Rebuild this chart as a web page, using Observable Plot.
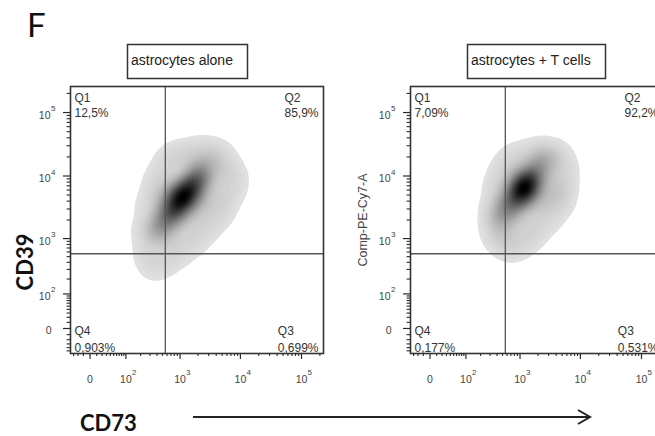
<!DOCTYPE html>
<html><head><meta charset="utf-8">
<script src="https://cdn.jsdelivr.net/npm/d3@7"></script>
<script src="https://cdn.jsdelivr.net/npm/@observablehq/plot@0.6"></script>
<style>
body{margin:0;width:655px;height:436px;overflow:hidden;position:relative;background:#fff;font-family:"Liberation Sans",Arial,sans-serif;}
.panel{position:absolute;top:80px;width:330px;height:320px;}
.panel svg{max-width:none !important;overflow:visible;}
#overlay{position:absolute;left:0;top:0;pointer-events:none;}
</style></head><body>
<div id="p1" class="panel" style="left:0px"></div>
<div id="p2" class="panel" style="left:340px"></div>
<svg id="overlay" width="655" height="436"></svg>
<script>
// ---- data ----
const panelLetter = "F";
const panelTitles = ["astrocytes alone", "astrocytes + T cells"];
const yAxisTitles = ["CD39", "Comp-PE-Cy7-A"];
const xAxisTitle = "CD73";
const quadrantNames = ["Q1", "Q2", "Q3", "Q4"];
const quadrantPct1 = ["12,5%", "85,9%", "0,699%", "0,903%"];
const quadrantPct2 = ["7,09%", "92,2%", "0,531%", "0,177%"];
const gateCD73 = 560;
const gateCD39 = 560;

// representative events (CD73, CD39) with weights
const cd73_1 = [1100, 870, 1390, 688, 1818, 461, 2201,
  740, 564, 420, 1630, 2201, 3000, 838, 1500, 640, 2000,
  1150, 1980, 3350, 5100, 5693, 7700, 6880, 4712, 3050, 1818, 1100, 640, 350, 270, 247, 290, 376, 520, 740,
  2201, 3500, 1500, 688, 461, 3900, 2201];
const cd39_1 = [4580, 3290, 6100, 2360, 8490, 1580, 11400,
  2640, 1830, 1240, 7080, 10190, 14650, 5900, 3410, 4900, 4900,
  21060, 24400, 23500, 19500, 12220, 9300, 5100, 2640, 1570, 1000, 660, 450, 340, 590, 1350, 3290, 7300, 12800, 19300,
  14650, 7080, 1630, 930, 4090, 4090, 2840];
const weight_1 = [10, 6, 6, 4, 4, 3, 2,
  3, 2, 2, 3, 2, 1.5, 2, 2, 1.5, 1.5,
  1, 1, 1, 1, 1, 1, 1, 1, 1, 1, 1, 1, 1, 1, 1, 1, 1, 1, 1,
  1, 1, 1, 1, 1, 1, 1];

const cd73_2 = [1237, 1019, 1500, 838, 1950, 564,
  688, 490, 2550, 870, 1760, 1390,
  1940, 3222, 4712, 5300, 5100, 4500, 3100, 1880, 1190, 710, 480, 375, 350, 400, 460, 620, 1019,
  2201, 3500, 2201, 1237, 564, 600, 3600];
const cd39_2 = [7080, 5400, 9400, 4090, 12220, 2640,
  3410, 2100, 17570, 7700, 5500, 4090,
  23500, 22500, 18500, 11400, 6300, 3700, 2200, 1350, 900, 700, 920, 1350, 2520, 5300, 9600, 16000, 20500,
  14650, 7080, 3410, 1800, 1350, 4910, 4910];
const weight_2 = [10, 6, 6, 4, 3, 3,
  3, 2, 2, 2, 2, 1.5,
  1, 1, 1, 1, 1, 1, 1, 1, 1, 1, 1, 1, 1, 1, 1, 1, 1,
  1, 1, 1, 1, 1, 1, 1];

const majorTicks = [0, 100, 1000, 10000, 100000];
const majorExp = ["", "2", "3", "4", "5"];
const minorTicks = [-50, -40, -30, -20, -10, 10, 20, 30, 40, 50, 60, 70, 80, 90,
  200, 300, 400, 500, 600, 700, 800, 900, 2000, 3000, 4000, 5000, 6000, 7000, 8000, 9000,
  20000, 30000, 40000, 50000, 60000, 70000, 80000, 90000, 200000];

// ---- layout ----
const W = 330, H = 320, mL = 70, mR = 7, mT = 6, mB = 47;
const xDomain = [-38, 229000], yDomain = [-59, 257000];
const ink = "#2a2a2a";
const qFont = 12;
const ctx = document.createElement("canvas").getContext("2d");
ctx.font = `${qFont}px "Liberation Sans"`;

function panel(cd73, cd39, w, pct) {
  const events = cd73.map((x, i) => ({x, y: cd39[i], w: w[i]}));
  const labTicks = majorTicks.map((t, i) => ({t, e: majorExp[i]}));
  const xMinor = minorTicks.filter(t => t >= xDomain[0] && t <= xDomain[1]);
  const yMinor = minorTicks.filter(t => t >= yDomain[0] && t <= yDomain[1]);
  const pw1 = ctx.measureText(pct[1]).width, pw2 = ctx.measureText(pct[2]).width;
  return Plot.plot({
    width: W, height: H,
    marginLeft: mL, marginRight: mR, marginTop: mT, marginBottom: mB,
    x: {type: "symlog", constant: 35, domain: xDomain, axis: null},
    y: {type: "symlog", constant: 40, domain: yDomain, axis: null},
    color: {type: "linear", range: ["#e4e4e4", "#000000"], interpolate: "rgb"},
    style: {fontFamily: '"Liberation Sans", Arial, sans-serif', color: ink, overflow: "visible"},
    marks: [
      Plot.density(events, {x: "x", y: "y", weight: "w", fill: "density", bandwidth: 7.5, thresholds: 60}),
      Plot.ruleX([gateCD73], {stroke: "#555", strokeWidth: 1.3}),
      Plot.ruleY([gateCD39], {stroke: "#555", strokeWidth: 1.3}),
      Plot.frame({stroke: "#333", strokeWidth: 1.6}),
      // ruler ticks just outside the frame (left and bottom)
      Plot.ruleY(majorTicks, {y: d => d, x1: -60, x2: xDomain[0], stroke: ink, strokeWidth: 1.2}),
      Plot.ruleY(yMinor, {y: d => d, x1: -48, x2: xDomain[0], stroke: ink, strokeWidth: 1.1}),
      Plot.ruleX(majorTicks, {x: d => d, y1: -83, y2: yDomain[0], stroke: ink, strokeWidth: 1.2}),
      Plot.ruleX(xMinor, {x: d => d, y1: -70, y2: yDomain[0], stroke: ink, strokeWidth: 1.1}),
      // y tick labels
      Plot.text(labTicks.filter(d => d.t !== 0), {y: "t", text: () => "10", frameAnchor: "left", textAnchor: "end", dx: -20, dy: 3, fontSize: 10.5, fill: "#444"}),
      Plot.text(labTicks.filter(d => d.t !== 0), {y: "t", text: "e", frameAnchor: "left", textAnchor: "start", dx: -19.5, dy: -4, fontSize: 8, fill: "#444"}),
      Plot.text(labTicks.filter(d => d.t === 0), {y: "t", text: () => "0", frameAnchor: "left", textAnchor: "end", dx: -19, dy: 2, fontSize: 10.5, fill: "#444"}),
      // x tick labels
      Plot.text(labTicks.filter(d => d.t !== 0), {x: "t", text: () => "10", frameAnchor: "bottom", textAnchor: "middle", dy: 29, fontSize: 10.5, fill: "#444"}),
      Plot.text(labTicks.filter(d => d.t !== 0), {x: "t", text: "e", frameAnchor: "bottom", textAnchor: "start", dx: 6, dy: 21, fontSize: 8, fill: "#444"}),
      Plot.text(labTicks.filter(d => d.t === 0), {x: "t", text: () => "0", frameAnchor: "bottom", textAnchor: "middle", dy: 29, fontSize: 10.5, fill: "#444"}),
      // quadrant labels
      Plot.text([quadrantNames[0]], {text: d => d, frameAnchor: "top-left", textAnchor: "start", lineAnchor: "bottom", dx: 4, dy: 15, fontSize: qFont, fill: "#333"}),
      Plot.text([pct[0]], {text: d => d, frameAnchor: "top-left", textAnchor: "start", lineAnchor: "bottom", dx: 4, dy: 30, fontSize: qFont, fill: "#333"}),
      Plot.text([quadrantNames[1]], {text: d => d, frameAnchor: "top-right", textAnchor: "start", lineAnchor: "bottom", dx: -5 - pw1, dy: 15, fontSize: qFont, fill: "#333"}),
      Plot.text([pct[1]], {text: d => d, frameAnchor: "top-right", textAnchor: "end", lineAnchor: "bottom", dx: -5, dy: 30, fontSize: qFont, fill: "#333"}),
      Plot.text([quadrantNames[2]], {text: d => d, frameAnchor: "bottom-right", textAnchor: "start", lineAnchor: "bottom", dx: -5 - pw2, dy: -19, fontSize: qFont, fill: "#333"}),
      Plot.text([pct[2]], {text: d => d, frameAnchor: "bottom-right", textAnchor: "end", lineAnchor: "bottom", dx: -5, dy: -2, fontSize: qFont, fill: "#333"}),
      Plot.text([quadrantNames[3]], {text: d => d, frameAnchor: "bottom-left", textAnchor: "start", lineAnchor: "bottom", dx: 4, dy: -19, fontSize: qFont, fill: "#333"}),
      Plot.text([pct[3]], {text: d => d, frameAnchor: "bottom-left", textAnchor: "start", lineAnchor: "bottom", dx: 4, dy: -2, fontSize: qFont, fill: "#333"})
    ]
  });
}

document.getElementById("p1").append(panel(cd73_1, cd39_1, weight_1, quadrantPct1));
document.getElementById("p2").append(panel(cd73_2, cd39_2, weight_2, quadrantPct2));

// ---- overlay text & decorations ----
const ov = d3.select("#overlay");
ov.append("text").attr("x", 27).attr("y", 37).attr("font-family", "Lato, 'Open Sans', sans-serif").attr("font-size", 33).attr("fill", "#111").text(panelLetter);
const boxes = [{x: 127, w: 120}, {x: 467, w: 138}];
boxes.forEach((b, i) => {
  ov.append("rect").attr("x", b.x + 0.5).attr("y", 44.5).attr("width", b.w).attr("height", 34)
    .attr("fill", "none").attr("stroke", "#333").attr("stroke-width", 1.5);
  ov.append("text").attr("x", b.x + 4).attr("y", 65).attr("font-size", 14).attr("fill", "#222")
    .attr("font-family", '"Liberation Sans", Arial, sans-serif').text(panelTitles[i]);
});
ov.append("text").attr("transform", "translate(33,262) rotate(-90)").attr("text-anchor", "middle")
  .attr("font-family", "Lato, sans-serif").attr("font-weight", 700).attr("font-size", 22).attr("fill", "#111").text(yAxisTitles[0]);
ov.append("text").attr("transform", "translate(367,220) rotate(-90)").attr("text-anchor", "middle")
  .attr("font-family", '"Liberation Sans", Arial, sans-serif').attr("font-size", 12.5).attr("fill", "#444").text(yAxisTitles[1]);
ov.append("text").attr("x", 80).attr("y", 431)
  .attr("font-family", "Lato, sans-serif").attr("font-weight", 700).attr("font-size", 22).attr("fill", "#111").text(xAxisTitle);
ov.append("line").attr("x1", 193).attr("y1", 417).attr("x2", 590).attr("y2", 417).attr("stroke", "#222").attr("stroke-width", 2);
ov.append("path").attr("d", "M578,410 L590,417 L578,424").attr("fill", "none").attr("stroke", "#222").attr("stroke-width", 2);
</script>
</body></html>
